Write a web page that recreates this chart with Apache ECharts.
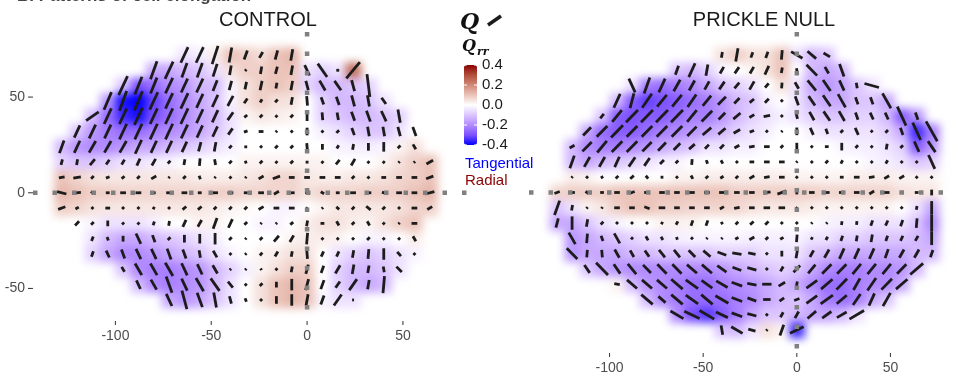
<!DOCTYPE html>
<html>
<head>
<meta charset="utf-8">
<script src="https://cdn.jsdelivr.net/npm/echarts@6/dist/echarts.min.js"></script>
<style>
  html, body { margin: 0; padding: 0; background: #fff; }
  #chart { width: 956px; height: 377px; }
  /* the Q_rr tiles live alone on zlevel 0: soften them like an interpolated raster */
  #chart canvas[data-zr-dom-id="zr_0"] { filter: blur(4px); }
</style>
</head>
<body>
<div id="chart"></div>
<script>
// grid spacing of the measurement points (same units as the axes)
const gridStep = 8
const xTicks = [-100, -50, 0, 50]
const yTicks = [-50, 0, 50]
const legendTicks = [0.4, 0.2, 0.0, -0.2, -0.4]

// ---- CONTROL : one entry per row (top to bottom) ----
const ctrlRowY = [72, 64, 56, 48, 40, 32, 24, 16, 8, 0, -8, -16, -24, -32, -40, -48, -56]
const ctrlStartX = [-64, -80, -96, -104, -112, -120, -128, -128, -128, -128, -128, -120, -112, -112, -96, -88, -72]
// orientation of the elongation (degrees) per cell
const ctrlAngle = [
  [65, 65, 72, 80, 70, 60, 75, 80],
  [70, 65, 70, 70, 72, 80, 45, 80, 75, 80, 115, 125, 0, 50],
  [65, 68, 68, 65, 65, 65, 68, 75, 78, 78, 80, 80, 105, 120, 125, 105, 97],
  [67, 70, 67, 65, 65, 65, 65, 65, 62, 55, 60, 45, 80, 95, 110, 110, 105, 100, 125],
  [35, 65, 65, 65, 65, 65, 65, 65, 65, 55, 40, 45, 45, 45, 90, 95, 100, 110, 110, 115, 100],
  [65, 65, 65, 65, 65, 65, 65, 65, 65, 65, 55, 20, 0, 45, 45, 90, 45, 45, 110, 100, 100, 105, 110],
  [70, 65, 60, 60, 60, 65, 65, 65, 65, 75, 80, 45, 0, 45, 45, 45, 95, 90, 60, 80, 90, 90, 45, 120],
  [75, 80, 50, 55, 60, 65, 60, 45, 80, 85, 100, 45, 110, 45, 45, 45, 0, 45, 50, 60, 45, 45, 45, 45, 30],
  [10, 10, 45, 20, 40, 45, 30, 45, 45, 110, 45, 45, 45, 30, 20, 0, 0, 0, 0, 45, 45, 0, 0, 0, 20],
  [165, 5, 140, 0, 0, 0, 0, 0, 0, 0, 0, 0, 0, 0, 30, 0, 0, 150, 0, 0, 0, 160, 0, 0, 15],
  [20, 30, 45, 0, 45, 45, 60, 45, 40, 40, 45, 45, 45, 30, 0, 0, 45, 45, 140, 45, 140, 45, 45, 0, 30],
  [45, 45, 90, 45, 45, 70, 80, 65, 60, 70, 65, 45, 45, 45, 40, 80, 0, 120, 45, 120, 45, 45, 0],
  [70, 110, 90, 115, 110, 45, 90, 90, 90, 45, 45, 45, 50, 60, 85, 45, 45, 45, 45, 45, 45, 120],
  [70, 115, 110, 115, 115, 110, 110, 100, 120, 45, 45, 50, 60, 80, 95, 65, 65, 80, 85, 90, 130, 45],
  [120, 120, 120, 120, 115, 115, 120, 45, 45, 120, 45, 80, 75, 70, 60, 80, 80, 100, 135],
  [115, 120, 110, 115, 120, 125, 130, 45, 45, 90, 90, 75, 70, 55, 55, 80, 85],
  [115, 105, 110, 100, 105, 110, 45, 90, 90, 80, 70, 55, 0]
]
// magnitude of the elongation (drawn segment length, axis units)
const ctrlLength = [
  [9, 9, 10, 8, 5, 3.5, 5, 6],
  [10, 10, 8, 8, 7, 5, 1, 4, 4, 5, 6, 8.5, 1.5, 11],
  [11, 10, 9, 9, 8, 8, 6, 5, 4, 5, 3, 5, 5, 6, 6, 6, 12],
  [10, 11, 11, 10, 9, 9, 8, 7, 6, 3, 2, 2, 4, 5, 4, 4.5, 6, 6, 4],
  [8, 9, 9, 10, 9, 9, 9, 8, 7, 5, 2, 2, 1.5, 2, 5, 4, 4, 5, 6, 6, 7],
  [7, 8, 8, 9, 9, 9, 9, 8, 7, 6, 4, 2, 2.5, 1, 1.5, 4, 1.5, 2, 4, 5, 5, 5, 5],
  [7, 7, 7, 7, 7, 8, 7, 7, 6, 5, 5, 2, 1.5, 1.5, 2, 2, 4, 3, 2, 3, 4, 5, 2, 3],
  [3, 3, 4, 3, 3, 4, 4, 2, 3, 4, 3, 2, 1.5, 2, 1.5, 2, 1.5, 1.5, 3, 4, 1.5, 1.5, 1, 1, 4],
  [3, 4, 2, 2, 2, 2, 3, 1, 2, 2, 1, 1.5, 1, 3, 4, 3, 3, 3, 3, 2, 1.5, 2.5, 3, 3, 4],
  [5, 4, 2, 2, 3, 3, 2, 3, 3, 2, 3, 3, 2, 3, 3, 3, 2, 2, 2, 3, 3, 2, 3, 3, 5],
  [4, 2, 1.5, 2.5, 1.5, 1.5, 1.5, 1.5, 2.5, 2.5, 2, 2, 2, 3, 3, 3, 1, 1, 2, 2, 3, 2, 1.5, 3, 3],
  [3, 2, 3, 1.5, 1.5, 2, 2.5, 4, 4, 6, 5, 2, 1, 1, 2, 3, 2, 2.5, 2, 2.5, 1.5, 1, 3],
  [2.5, 2, 3, 6, 4, 2, 4, 5, 6, 2, 1, 2, 4, 4, 6, 1.5, 1.5, 1.5, 2, 1.5, 1.5, 3],
  [3, 4, 5, 6, 6, 6, 5, 4, 4, 1.5, 1, 2, 3, 3, 5, 3, 3, 4, 5, 6, 3, 1.5],
  [3, 7, 7, 8, 7, 6, 5, 1, 1, 1, 1.5, 3, 5, 4, 5, 5, 4, 3, 4],
  [5, 6, 9, 7, 8, 8, 4, 1.5, 2, 3, 6, 6, 5, 4, 7, 5, 9],
  [7, 10, 8, 8, 4, 2, 1.5, 4, 6, 6, 5, 7, 1]
]
// Q_rr (radial component) per cell
const ctrlQrr = [
  [-0.05, -0.03, 0.03, 0.1, 0.08, 0.06, 0.1, 0.12],
  [-0.15, -0.15, -0.12, -0.1, -0.05, 0.05, 0.08, 0.08, 0.1, 0.1, -0.05, -0.08, -0.05, 0.25],
  [-0.1, -0.3, -0.25, -0.2, -0.18, -0.12, -0.12, -0.02, 0.05, 0.08, 0.1, 0.08, -0.08, -0.12, -0.12, -0.1, -0.08],
  [-0.18, -0.38, -0.4, -0.32, -0.25, -0.2, -0.15, -0.1, -0.02, 0.05, 0.08, 0.05, 0.05, 0, -0.08, -0.12, -0.12, -0.1, -0.05],
  [-0.12, -0.25, -0.35, -0.38, -0.3, -0.25, -0.2, -0.15, -0.12, -0.05, 0.02, 0.04, 0.03, 0.02, 0, -0.08, -0.1, -0.12, -0.12, -0.1, -0.08],
  [-0.1, -0.18, -0.22, -0.25, -0.25, -0.22, -0.2, -0.18, -0.15, -0.1, -0.05, 0, 0, 0, 0, 0, -0.03, -0.05, -0.08, -0.1, -0.1, -0.05, 0],
  [-0.12, -0.18, -0.2, -0.2, -0.18, -0.15, -0.15, -0.12, -0.1, -0.08, -0.05, -0.03, 0, 0, 0, 0, 0, 0, -0.02, -0.03, -0.03, -0.02, 0.02, 0.05],
  [-0.08, -0.1, -0.1, -0.08, -0.05, -0.05, -0.03, -0.02, 0, 0, 0, 0, 0.02, 0.02, 0.02, 0.02, 0.02, 0.02, 0, 0, 0, 0.02, 0.05, 0.08, 0.1],
  [0.1, 0.07, 0.05, 0.04, 0.04, 0.04, 0.04, 0.04, 0.04, 0.03, 0.03, 0.03, 0.04, 0.05, 0.07, 0.07, 0.04, 0.03, 0.03, 0.04, 0.04, 0.05, 0.07, 0.08, 0.1],
  [0.12, 0.1, 0.08, 0.08, 0.07, 0.07, 0.07, 0.07, 0.07, 0.07, 0.08, 0.08, 0.07, 0.07, 0.07, 0.07, 0.05, 0.07, 0.07, 0.07, 0.08, 0.08, 0.08, 0.1, 0.12],
  [0.08, 0.07, 0.05, 0.04, 0.04, 0.04, 0.04, 0.04, 0.04, 0.04, 0.03, 0.02, 0.01, 0, -0.02, -0.02, 0, 0.02, 0.04, 0.04, 0.04, 0.04, 0.05, 0.07, 0.08],
  [0, -0.02, -0.05, -0.05, -0.05, -0.03, 0, 0, 0.02, 0.02, 0, 0, -0.02, -0.02, 0, 0.03, 0.05, 0.05, 0.03, 0.02, 0.05, 0.08, 0.1],
  [-0.05, -0.12, -0.15, -0.15, -0.12, -0.1, -0.08, -0.05, -0.03, 0, 0, 0, 0, 0.02, 0.03, 0.03, 0.02, 0, -0.02, -0.02, 0, 0.03],
  [-0.08, -0.15, -0.2, -0.2, -0.18, -0.15, -0.12, -0.1, -0.05, -0.02, 0, 0.02, 0.03, 0.05, 0.05, 0, -0.05, -0.08, -0.1, -0.08, -0.05, -0.02],
  [-0.1, -0.2, -0.22, -0.22, -0.2, -0.18, -0.12, -0.08, -0.03, 0.02, 0.05, 0.08, 0.08, 0, -0.08, -0.12, -0.12, -0.1, -0.05],
  [-0.12, -0.2, -0.22, -0.2, -0.18, -0.12, -0.05, 0, 0.05, 0.1, 0.12, 0.1, 0, -0.08, -0.12, -0.15, -0.12],
  [-0.15, -0.18, -0.15, -0.1, -0.05, 0, 0.05, 0.1, 0.12, 0.1, -0.02, -0.05, -0.05]
]

// ---- PRICKLE NULL ----
const nullRowY = [72, 64, 56, 48, 40, 32, 24, 16, 8, 0, -8, -16, -24, -32, -40, -48, -56, -64, -72]
const nullStartX = [-40, -64, -88, -96, -104, -112, -120, -120, -120, -128, -128, -128, -120, -120, -112, -96, -80, -64, -40]
const nullAngle = [
  [80, 80, 70, 70, 85, 150, 140, 150],
  [70, 65, 80, 60, 55, 60, 65, 80, 100, 135, 120, 110],
  [115, 70, 65, 60, 60, 60, 55, 50, 60, 50, 85, 120, 130, 125, 115, 100, 165],
  [65, 75, 55, 50, 50, 55, 50, 45, 45, 40, 45, 45, 110, 125, 125, 120, 110, 110, 120],
  [50, 50, 45, 45, 45, 45, 50, 45, 45, 40, 30, 10, 45, 105, 120, 125, 120, 110, 115, 115, 115, 110],
  [45, 45, 45, 45, 45, 45, 45, 45, 40, 40, 30, 20, 45, 45, 90, 115, 110, 45, 115, 45, 45, 110, 115, 120],
  [30, 45, 50, 45, 45, 45, 45, 45, 40, 45, 45, 30, 10, 0, 45, 90, 45, 0, 90, 45, 45, 80, 45, 115, 125],
  [70, 60, 60, 65, 55, 55, 45, 45, 85, 110, 120, 45, 0, 0, 0, 45, 45, 45, 60, 45, 45, 60, 45, 45, 115],
  [45, 45, 120, 45, 40, 130, 90, 45, 120, 45, 30, 45, 30, 10, 0, 45, 45, 45, 0, 0, 10, 30, 30, 45, 45],
  [20, 0, 150, 0, 0, 20, 0, 0, 0, 0, 0, 0, 0, 0, 10, 20, 90, 0, 0, 0, 0, 30, 0, 0, 0, 90],
  [70, 80, 45, 60, 0, 0, 160, 0, 0, 0, 0, 30, 10, 0, 0, 0, 45, 45, 45, 45, 45, 45, 45, 45, 80, 90],
  [75, 90, 80, 45, 45, 45, 45, 60, 60, 70, 70, 120, 45, 40, 45, 45, 45, 45, 45, 80, 85, 70, 65, 70, 85, 90],
  [120, 85, 110, 120, 45, 120, 120, 110, 45, 45, 45, 30, 30, 45, 30, 85, 60, 60, 70, 80, 80, 70, 65, 60, 90],
  [135, 85, 95, 120, 120, 125, 130, 130, 135, 140, 160, 170, 170, 45, 90, 80, 60, 60, 65, 65, 65, 70, 60, 60, 70],
  [125, 135, 125, 130, 135, 135, 135, 140, 140, 145, 160, 165, 45, 60, 45, 50, 45, 45, 50, 50, 50, 45, 40],
  [170, 140, 140, 140, 140, 145, 145, 150, 160, 170, 0, 30, 80, 35, 40, 45, 60, 55, 45, 40],
  [140, 140, 140, 145, 140, 150, 160, 160, 0, 35, 20, 35, 35, 40, 55, 65, 60],
  [150, 155, 150, 155, 160, 165, 45, 60, 60, 40, 35, 30, 30],
  [100, 150, 165, 45, 70, 25]
]
const nullLength = [
  [3, 7, 3, 3.5, 5, 7, 6, 4],
  [5, 8, 6, 4, 4, 4, 5, 3, 2, 8, 4, 7],
  [8, 9, 8, 7, 6, 5, 5, 4, 5, 3, 3, 4, 7, 7, 6, 3, 8],
  [8, 8, 9, 8, 8, 8, 7, 6, 4, 3, 3, 1.5, 5, 6, 7, 8, 4, 4, 9],
  [3, 8, 9, 9, 9, 9, 8, 8, 5, 5, 3, 3.5, 1.5, 3, 5, 6, 6, 4, 4, 4, 11, 4],
  [6, 8, 9, 8, 8, 8, 8, 7, 6, 5, 4, 2.5, 1.5, 1, 4, 4, 3, 2, 4, 1.5, 2, 4, 10, 12],
  [3, 7, 8, 8, 8, 7, 6, 5, 4, 3, 3, 3, 3, 3, 2, 4, 1.5, 2, 4, 2, 1.5, 3, 2, 6, 7],
  [7, 6, 6, 6, 6, 5, 3, 2, 3, 2, 2, 1.5, 2.5, 3, 3, 1, 1.5, 2, 2, 1.5, 1.5, 2, 1.5, 1.5, 8],
  [1, 1.5, 1.5, 2, 2.5, 2, 1.5, 1.5, 2, 2, 2, 2, 3, 3, 3, 1.5, 1.5, 1.5, 2, 3, 3, 3, 3, 1.5, 1.5],
  [3, 3, 2, 2, 3, 3, 3, 3, 3, 3, 3, 3, 3, 3, 4, 5, 2, 3, 3, 3, 3, 3, 3, 2, 2, 3],
  [8, 3, 1, 1, 3, 3, 3, 3.5, 3, 3, 3, 2.5, 3, 3, 3.5, 3.5, 1, 1.5, 1.5, 1.5, 1.5, 1.5, 1.5, 1.5, 2, 7],
  [5, 7, 4, 2, 1.5, 1.5, 1.5, 1.5, 2, 3, 3, 1.5, 2, 2.5, 2.5, 1.5, 1.5, 1, 1, 2, 2, 3, 3, 3.5, 5, 9],
  [7, 5, 3, 6, 1.5, 2.5, 2, 1.5, 1.5, 1, 1, 2, 3, 2, 2, 4, 1.5, 2, 3, 3, 4, 3, 3, 3, 7],
  [8, 4, 4, 5, 4, 4, 5, 5, 5, 5, 5, 5, 4, 1.5, 3, 5, 4, 5, 6, 6, 6, 5, 5, 5, 4],
  [5, 9, 6, 7, 6, 7, 7, 7, 7, 6, 5, 5, 1.5, 3, 5, 6, 7, 7, 7, 7, 7, 7, 9],
  [3, 7, 7, 7, 8, 8, 7, 7, 6, 5, 5, 4, 3, 7, 8, 8, 7, 8, 8, 8],
  [8, 5, 8, 8, 8, 8, 6, 5, 4, 3, 3, 7, 8, 7, 7, 7, 8],
  [8, 9, 9, 7, 6, 5, 1.5, 3, 4, 6, 6, 6, 9],
  [5, 7, 4, 1, 6, 8]
]
const nullQrr = [
  [0.05, 0.08, 0.05, 0.05, 0.1, -0.05, -0.12, -0.1],
  [-0.1, -0.12, -0.08, -0.02, 0, 0.02, 0.05, 0.1, 0, -0.12, -0.15, -0.12],
  [-0.05, -0.22, -0.25, -0.22, -0.2, -0.15, -0.1, -0.08, -0.05, 0, 0.05, -0.05, -0.15, -0.18, -0.15, -0.1, -0.05],
  [-0.12, -0.28, -0.32, -0.3, -0.28, -0.25, -0.22, -0.18, -0.12, -0.1, -0.03, 0, -0.05, -0.12, -0.15, -0.15, -0.1, -0.1, -0.15],
  [-0.1, -0.28, -0.3, -0.28, -0.28, -0.25, -0.22, -0.22, -0.18, -0.12, -0.08, -0.05, -0.03, -0.05, -0.08, -0.1, -0.1, -0.08, -0.08, -0.12, -0.28, -0.18],
  [-0.15, -0.25, -0.28, -0.28, -0.25, -0.22, -0.2, -0.18, -0.15, -0.12, -0.08, -0.05, -0.03, 0, 0, -0.03, -0.05, -0.05, -0.05, -0.05, -0.08, -0.15, -0.35, -0.22],
  [-0.12, -0.2, -0.22, -0.22, -0.2, -0.18, -0.15, -0.12, -0.1, -0.05, -0.05, -0.03, -0.03, 0, 0, 0, 0, 0, -0.02, -0.03, -0.03, -0.05, -0.08, -0.28, -0.18],
  [-0.12, -0.15, -0.12, -0.1, -0.08, -0.05, -0.03, -0.02, 0, 0, 0, 0, 0, 0, 0, 0, 0, 0, 0, 0, -0.02, -0.03, -0.05, -0.1, -0.08],
  [0.03, 0.02, 0, 0, 0, 0, 0, 0.02, 0.02, 0.03, 0.03, 0.03, 0.03, 0.03, 0.03, 0.02, 0.02, 0.02, 0.02, 0.03, 0.03, 0.03, 0.02, 0.02, 0.02],
  [0.07, 0.08, 0.08, 0.08, 0.1, 0.1, 0.1, 0.1, 0.1, 0.1, 0.1, 0.1, 0.08, 0.08, 0.08, 0.08, 0.08, 0.08, 0.07, 0.07, 0.07, 0.07, 0.07, 0.05, 0.04, 0.04],
  [-0.1, -0.05, 0.02, 0.04, 0.08, 0.1, 0.1, 0.08, 0.08, 0.07, 0.07, 0.07, 0.07, 0.05, 0.04, 0.04, 0.04, 0.03, 0.02, 0.02, 0.02, 0.02, 0.02, 0, -0.05, -0.15],
  [-0.15, -0.15, -0.1, -0.05, -0.02, 0, 0, 0.02, 0.02, 0.02, 0, 0, 0, 0, 0, 0, 0, 0, -0.02, -0.03, -0.03, -0.05, -0.05, -0.05, -0.1, -0.2],
  [-0.18, -0.15, -0.12, -0.1, -0.08, -0.05, -0.05, -0.03, -0.02, -0.02, -0.02, -0.02, -0.03, -0.03, -0.03, -0.02, -0.05, -0.05, -0.08, -0.08, -0.1, -0.1, -0.1, -0.12, -0.15],
  [-0.18, -0.15, -0.15, -0.15, -0.12, -0.12, -0.1, -0.1, -0.1, -0.1, -0.08, -0.08, -0.08, -0.05, -0.05, -0.05, -0.1, -0.12, -0.15, -0.15, -0.15, -0.15, -0.15, -0.12, -0.12],
  [-0.1, -0.15, -0.18, -0.2, -0.2, -0.2, -0.2, -0.2, -0.2, -0.18, -0.15, -0.12, -0.1, -0.08, -0.1, -0.15, -0.2, -0.22, -0.22, -0.2, -0.2, -0.18, -0.12],
  [0.02, -0.12, -0.18, -0.2, -0.22, -0.25, -0.25, -0.22, -0.2, -0.18, -0.15, -0.12, -0.15, -0.2, -0.25, -0.25, -0.22, -0.2, -0.2, -0.15],
  [-0.12, -0.2, -0.22, -0.25, -0.25, -0.25, -0.22, -0.2, -0.15, -0.12, -0.1, -0.15, -0.22, -0.25, -0.22, -0.15, -0.1],
  [-0.2, -0.3, -0.33, -0.28, -0.22, -0.15, -0.1, -0.1, -0.12, -0.15, -0.15, -0.12, -0.05],
  [-0.1, -0.12, -0.05, 0.05, 0.02, -0.35]
]

// build [x, y, angle, length, qrr] rows for the custom series
function buildCells(rowY, startX, angle, length, qrr) {
  let cells = []
  rowY.forEach(function (y, r) {
    angle[r].forEach(function (a, i) {
      cells.push([startX[r] + i * gridStep, y, a, length[r][i], qrr[r][i]])
    })
  })
  return cells
}

const ctrlCells = buildCells(ctrlRowY, ctrlStartX, ctrlAngle, ctrlLength, ctrlQrr)
const nullCells = buildCells(nullRowY, nullStartX, nullAngle, nullLength, nullQrr)

// background tile, coloured by the visualMap
function renderTile(params, api) {
  let x = api.value(0)
  let y = api.value(1)
  let h = gridStep / 2
  let p0 = api.coord([x - h, y + h])
  let p1 = api.coord([x + h, y - h])
  return {
    type: 'rect',
    shape: { x: p0[0], y: p0[1], width: p1[0] - p0[0] + 0.6, height: p1[1] - p0[1] + 0.6 },
    style: { fill: api.visual('color') }
  }
}

// nematic segment centred on the cell
function renderSegment(params, api) {
  let x = api.value(0)
  let y = api.value(1)
  let a = api.value(2) * Math.PI / 180
  let half = api.value(3) / 2
  let p0 = api.coord([x - half * Math.cos(a), y - half * Math.sin(a)])
  let p1 = api.coord([x + half * Math.cos(a), y + half * Math.sin(a)])
  return {
    type: 'line',
    shape: { x1: p0[0], y1: p0[1], x2: p1[0], y2: p1[1] },
    style: { stroke: '#1c1c1c', lineWidth: 2.8, lineCap: 'butt' }
  }
}

// dotted grey x = 0 / y = 0 reference lines across the panel
function renderZeroLines(params, api) {
  let cs = params.coordSys
  let o = api.coord([api.value(0), api.value(1)])
  let st = function () {
    return { stroke: '#808080', lineWidth: 4.5, lineDash: [4.5, 15], lineCap: 'butt' }
  }
  return {
    type: 'group',
    children: [
      { type: 'line', shape: { x1: o[0], y1: cs.y, x2: o[0], y2: cs.y + cs.height }, style: st() },
      { type: 'line', shape: { x1: cs.x, y1: o[1], x2: cs.x + cs.width, y2: o[1] }, style: st() }
    ]
  }
}

// axis tick marks (outside the panel, like ggplot)
function renderXTick(params, api) {
  let cs = params.coordSys
  let px = api.coord([api.value(0), 0])[0]
  let y0 = cs.y + cs.height
  return { type: 'line', shape: { x1: px, y1: y0, x2: px, y2: y0 + 4 }, style: { stroke: '#444', lineWidth: 1.1 } }
}
function renderYTick(params, api) {
  let cs = params.coordSys
  let py = api.coord([0, api.value(1)])[1]
  return { type: 'line', shape: { x1: cs.x - 5, y1: py, x2: cs.x, y2: py }, style: { stroke: '#444', lineWidth: 1.1 } }
}

function makeXAxis(gridIndex) {
  return {
    type: 'value',
    gridIndex: gridIndex,
    zlevel: 1,
    min: -143,
    max: 85,
    position: 'bottom',
    axisLine: { show: false, onZero: false },
    splitLine: { show: false },
    axisTick: { show: false },
    axisLabel: {
      customValues: xTicks,
      color: '#4d4d4d',
      fontSize: 14,
      fontFamily: 'Liberation Sans',
      margin: 8
    }
  }
}

const fontSans = 'Liberation Sans'
const cbTop = 65
const cbHeight = 80

let graphics = [
  {
    type: 'text', x: 17, y: 5,
    style: { text: 'B. Patterns of cell elongation', font: 'bold 17px "Liberation Sans"', fill: '#444', textVerticalAlign: 'bottom' }
  },
  {
    type: 'text', x: 268, y: 20,
    style: { text: 'CONTROL', font: '20px "Liberation Sans"', fill: '#1a1a1a', textAlign: 'center', textVerticalAlign: 'middle' }
  },
  {
    type: 'text', x: 764, y: 20,
    style: { text: 'PRICKLE NULL', font: '20px "Liberation Sans"', fill: '#1a1a1a', textAlign: 'center', textVerticalAlign: 'middle' }
  },
  {
    type: 'text', x: 460, y: 23,
    style: { text: 'Q', font: 'italic bold 22px "DejaVu Serif"', fill: '#111', textVerticalAlign: 'middle' }
  },
  {
    type: 'line', shape: { x1: 488, y1: 25, x2: 501, y2: 16 },
    style: { stroke: '#1c1c1c', lineWidth: 3.5, lineCap: 'butt' }
  },
  {
    type: 'text', x: 462, y: 47,
    style: { text: 'Q', font: 'italic bold 16px "DejaVu Serif"', fill: '#111', textVerticalAlign: 'middle' }
  },
  {
    type: 'text', x: 477, y: 52,
    style: { text: 'rr', font: 'italic bold 11px "DejaVu Serif"', fill: '#111', textVerticalAlign: 'middle' }
  },
  {
    type: 'text', x: 465, y: 164,
    style: { text: 'Tangential', font: '15px "Liberation Sans"', fill: '#0000ff', textVerticalAlign: 'middle' }
  },
  {
    type: 'text', x: 465, y: 181,
    style: { text: 'Radial', font: '15px "Liberation Sans"', fill: '#8b0000', textVerticalAlign: 'middle' }
  }
]

// colour-bar tick labels and the little white ticks inside the bar
legendTicks.forEach(function (v) {
  let y = cbTop + (0.4 - v) / 0.8 * cbHeight
  graphics.push({
    type: 'text', x: 482, y: y,
    style: { text: v.toFixed(1), font: '15px "Liberation Sans"', fill: '#1a1a1a', textVerticalAlign: 'middle' }
  })
  graphics.push({ type: 'line', z: 100, shape: { x1: 464, y1: y, x2: 467, y2: y }, style: { stroke: '#fff', lineWidth: 1 } })
  graphics.push({ type: 'line', z: 100, shape: { x1: 474, y1: y, x2: 477, y2: y }, style: { stroke: '#fff', lineWidth: 1 } })
})
graphics.forEach(function (g) { g.zlevel = 1 })

let myChart = echarts.init(document.getElementById('chart'), null, { renderer: 'canvas' })

myChart.setOption({
  animation: false,
  backgroundColor: '#fff',
  textStyle: { fontFamily: fontSans },
  grid: [
    { left: 33, top: 32, width: 437, height: 289 },
    { left: 529, top: 32, width: 437, height: 321 }
  ],
  xAxis: [makeXAxis(0), makeXAxis(1)],
  yAxis: [
    {
      type: 'value',
      gridIndex: 0,
      zlevel: 1,
      min: -67,
      max: 84,
      axisLine: { show: false, onZero: false },
      splitLine: { show: false },
      axisTick: { show: false },
      axisLabel: { customValues: yTicks, color: '#4d4d4d', fontSize: 14, fontFamily: fontSans, margin: 8 }
    },
    {
      type: 'value',
      gridIndex: 1,
      zlevel: 1,
      min: -84,
      max: 84,
      show: false,
      splitLine: { show: false }
    }
  ],
  visualMap: {
    type: 'continuous',
    zlevel: 1,
    min: -0.4,
    max: 0.4,
    seriesIndex: [0, 3],
    dimension: 4,
    orient: 'vertical',
    left: 464,
    top: cbTop,
    padding: 0,
    itemWidth: 13,
    itemHeight: cbHeight,
    calculable: false,
    hoverLink: false,
    inRange: {
      color: ['#0000ff', '#7e51ff', '#b28bff', '#dcc5ff', '#ffffff',
        '#ebc3b9', '#d18978', '#b14f3b', '#8b0000']
    }
  },
  graphic: graphics,
  series: [
    {
      name: 'ctrl-qrr', type: 'custom', xAxisIndex: 0, yAxisIndex: 0, zlevel: 0, z: 1, silent: true,
      renderItem: renderTile, data: ctrlCells
    },
    {
      name: 'ctrl-q', type: 'custom', xAxisIndex: 0, yAxisIndex: 0, zlevel: 1, z: 2, silent: true,
      renderItem: renderSegment, data: ctrlCells
    },
    {
      name: 'ctrl-zero', type: 'custom', xAxisIndex: 0, yAxisIndex: 0, zlevel: 1, z: 3, silent: true,
      renderItem: renderZeroLines, data: [[0, 0]]
    },
    {
      name: 'null-qrr', type: 'custom', xAxisIndex: 1, yAxisIndex: 1, zlevel: 0, z: 1, silent: true,
      renderItem: renderTile, data: nullCells
    },
    {
      name: 'null-q', type: 'custom', xAxisIndex: 1, yAxisIndex: 1, zlevel: 1, z: 2, silent: true,
      renderItem: renderSegment, data: nullCells
    },
    {
      name: 'null-zero', type: 'custom', xAxisIndex: 1, yAxisIndex: 1, zlevel: 1, z: 3, silent: true,
      renderItem: renderZeroLines, data: [[0, 0]]
    },
    {
      name: 'ctrl-xticks', type: 'custom', xAxisIndex: 0, yAxisIndex: 0, zlevel: 1, silent: true,
      renderItem: renderXTick, data: xTicks.map(function (v) { return [v, 0] })
    },
    {
      name: 'ctrl-yticks', type: 'custom', xAxisIndex: 0, yAxisIndex: 0, zlevel: 1, silent: true,
      renderItem: renderYTick, data: yTicks.map(function (v) { return [0, v] })
    },
    {
      name: 'null-xticks', type: 'custom', xAxisIndex: 1, yAxisIndex: 1, zlevel: 1, silent: true,
      renderItem: renderXTick, data: xTicks.map(function (v) { return [v, 0] })
    }
  ]
})
</script>
</body>
</html>
